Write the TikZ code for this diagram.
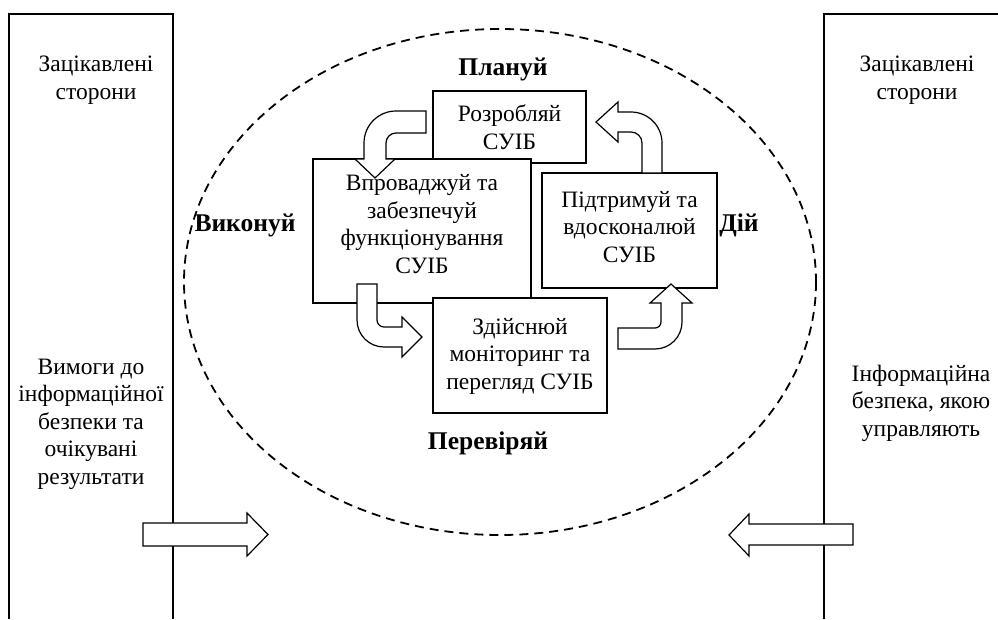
\documentclass[tikz,border=0pt]{standalone}
\usepackage{fontspec}
\setmainfont{Liberation Serif}

\begin{document}
\begin{tikzpicture}[x=1pt,y=-1pt,
        lbl/.style={font=\fontsize{23.5}{27.5}\selectfont, align=center, inner sep=0pt},
        boldlbl/.style={lbl, font=\fontsize{25.5}{29}\selectfont\bfseries},
        box/.style={lbl, draw, line width=1.2pt, fill=white},
        blockarrow/.style={draw, line width=1.2pt, fill=white, line join=miter}]
\useasboundingbox (0,0) rectangle (998,619);
\draw[line width=1.8pt, dash pattern=on 9pt off 6pt] (500,282) ellipse [x radius=316, y radius=253]; % scope
\draw[line width=1.2pt] (9,619) -- (9,14) -- (173,14) -- (173,619); % PanelLeft
\draw[line width=1.2pt] (824,619) -- (824,14) -- (998,14); % PanelRight
\node[lbl] (partiesL) at (96,80) {Зацікавлені\\сторони}; % PanelLeft
\node[lbl] (partiesR) at (917,80) {Зацікавлені\\сторони}; % PanelRight
\node[lbl] (needs) at (91,424) {Вимоги до\\інформаційної\\безпеки та\\очікувані\\результати}; % PanelLeft
\node[lbl] (managed) at (921,403) {Інформаційна\\безпека, якою\\управляють}; % PanelRight
\node[boldlbl] (plan) at (503,69) {Плануй}; % Phase.0
\node[boldlbl] (do) at (245,225) {Виконуй}; % Phase.1
\node[boldlbl] (check) at (488,443) {Перевіряй}; % Phase.2
\node[boldlbl] (act) at (739,225) {Дій}; % Phase.3
\node[box, minimum width=153pt, minimum height=72pt] (develop) at (509.5,127) {Розробляй\\СУІБ}; % Step.0
\node[box, minimum width=218pt, minimum height=144pt, text depth=14pt] (implement) at (422,231) {Впроваджуй та\\забезпечуй\\функціонування\\СУІБ}; % Step.1
\node[box, minimum width=174pt, minimum height=115pt, text depth=4pt] (monitor) at (520,355.5) {Здійснюй\\моніторинг та\\перегляд СУІБ}; % Step.2
\node[box, minimum width=175pt, minimum height=115pt, text depth=8pt] (improve) at (629.5,230.5) {Підтримуй та\\вдосконалюй\\СУІБ}; % Step.3
\draw[blockarrow] (426,111) -- (396,111) arc[start angle=270, end angle=180, radius=32] -- (364,159) -- (355,159) -- (375,178) -- (395,159) -- (386,159) -- (386,143) arc[start angle=180, end angle=270, radius=10] -- (426,133) -- cycle; % develop-implement
\draw[blockarrow] (357,284) -- (357,320) arc[start angle=180, end angle=90, radius=27] -- (402,347) -- (402,357) -- (422,337) -- (402,317) -- (402,327) -- (384,327) arc[start angle=90, end angle=180, radius=7] -- (377,284) -- cycle; % implement-monitor
\draw[blockarrow] (618,349) -- (655,349) arc[start angle=90, end angle=0, radius=27] -- (682,303) -- (692,303) -- (671,284) -- (650,303) -- (661,303) -- (661,322) arc[start angle=0, end angle=90, radius=6] -- (618,328) -- cycle; % monitor-improve
\draw[blockarrow] (662,173) -- (662,143) arc[start angle=0, end angle=-90, radius=31] -- (618,112) -- (618,102) -- (596,122) -- (618,142) -- (618,132) -- (631,132) arc[start angle=-90, end angle=0, radius=11] -- (642,173) -- cycle; % improve-develop
\draw[blockarrow] (143,523) -- (247,523) -- (247,513) -- (268,534.5) -- (247,556) -- (247,546) -- (143,546) -- cycle; % needs-in
\draw[blockarrow] (853,524) -- (749,524) -- (749,514) -- (729,535) -- (749,556) -- (749,545) -- (853,545) -- cycle; % managed-out
\end{tikzpicture}
\end{document}
